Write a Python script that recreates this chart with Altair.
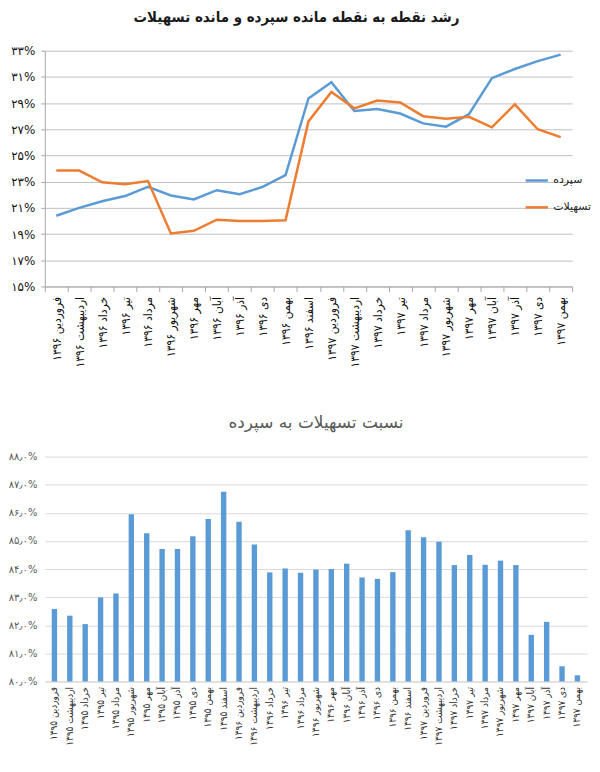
import json

import altair as alt
import pandas as pd

FONT = "DejaVu Sans"
NARROW = "DejaVu Sans Condensed"
BLUE = "#5B9BD5"
ORANGE = "#ED7D31"

months = ["فروردین", "اردیبهشت", "خرداد", "تیر", "مرداد", "شهریور",
          "مهر", "آبان", "آذر", "دی", "بهمن", "اسفند"]

# نمودار بالا: رشد نقطه به نقطه (درصد)
growth_periods = [f"{m} ۱۳۹۶" for m in months] + [f"{m} ۱۳۹۷" for m in months[:11]]
deposits = [20.4, 21.0, 21.5, 21.9, 22.6, 21.95, 21.65, 22.35, 22.05, 22.6, 23.5, 29.35,
            30.6, 28.4, 28.55, 28.2, 27.45, 27.2, 28.15, 30.9, 31.6, 32.2, 32.7]
loans = [23.85, 23.85, 22.95, 22.8, 23.05, 19.05, 19.25, 20.1, 20.0, 20.0, 20.05, 27.6,
         29.85, 28.6, 29.2, 29.05, 28.0, 27.8, 27.95, 27.15, 28.9, 27.0, 26.4]
series_names = ["سپرده", "تسهیلات"]
growth_ticks = [15, 17, 19, 21, 23, 25, 27, 29, 31, 33]
growth_tick_labels = ["۱۵%", "۱۷%", "۱۹%", "۲۱%", "۲۳%", "۲۵%", "۲۷%", "۲۹%", "۳۱%", "۳۳%"]

# نمودار پایین: نسبت تسهیلات به سپرده (درصد)
ratio_periods = ([f"{m} ۱۳۹۵" for m in months] + [f"{m} ۱۳۹۶" for m in months]
                 + [f"{m} ۱۳۹۷" for m in months[:11]])
ratio = [82.58, 82.34, 82.04, 82.99, 83.13, 85.95, 85.27, 84.71, 84.71, 85.17, 85.78, 86.75,
         85.68, 84.87, 83.88, 84.02, 83.87, 83.98, 84.0, 84.19, 83.7, 83.65, 83.89, 85.38,
         85.13, 84.97, 84.14, 84.5, 84.15, 84.3, 84.14, 81.66, 82.12, 80.54, 80.22]
ratio_ticks = [80, 81, 82, 83, 84, 85, 86, 87, 88]
ratio_tick_labels = ["۸۰٫۰%", "۸۱٫۰%", "۸۲٫۰%", "۸۳٫۰%", "۸۴٫۰%",
                     "۸۵٫۰%", "۸۶٫۰%", "۸۷٫۰%", "۸۸٫۰%"]


def label_expr(labels, start, step):
    return f"{json.dumps(labels, ensure_ascii=False)}[round((datum.value - {start}) / {step})]"


growth_df = pd.DataFrame({
    "period": growth_periods * 2,
    "series": [series_names[0]] * len(deposits) + [series_names[1]] * len(loans),
    "value": deposits + loans,
})

top = alt.Chart(growth_df).mark_line(strokeWidth=2.5).encode(
    x=alt.X("period:N", sort=growth_periods, bandPosition=0.5,
            scale=alt.Scale(type="band", paddingInner=0, paddingOuter=0),
            axis=alt.Axis(title=None, labelAngle=-90, tickBand="extent", ticks=True,
                          tickSize=5, tickColor="#A6A6A6", domainColor="#A6A6A6",
                          labelFont=NARROW, labelFontSize=12, labelColor="#111",
                          labelPadding=5)),
    y=alt.Y("value:Q", scale=alt.Scale(domain=[15, 33], zero=False),
            axis=alt.Axis(title=None, values=growth_ticks,
                          labelExpr=label_expr(growth_tick_labels, 15, 2),
                          gridColor="#BFBFBF", domainColor="#A6A6A6", tickColor="#A6A6A6",
                          tickSize=4, labelFontSize=12, labelColor="#111", labelPadding=6)),
    color=alt.Color("series:N", sort=series_names,
                    scale=alt.Scale(domain=series_names, range=[BLUE, ORANGE]),
                    legend=alt.Legend(title=None, orient="none", legendX=482, legendY=118,
                                      symbolType="stroke", symbolStrokeWidth=2.5,
                                      symbolSize=500, labelFontSize=11, labelColor="#222",
                                      rowPadding=9)),
).properties(
    width=530, height=237,
    title=alt.Title("رشد نقطه به نقطه مانده سپرده و مانده تسهیلات", font=NARROW,
                    fontSize=15, fontWeight="bold", color="#1a1a1a", offset=20, dx=-12),
)

ratio_df = pd.DataFrame({"period": ratio_periods, "ratio": ratio})

bottom = alt.Chart(ratio_df).mark_bar(color=BLUE).encode(
    x=alt.X("period:N", sort=ratio_periods,
            scale=alt.Scale(paddingInner=0.65, paddingOuter=0.45),
            axis=alt.Axis(title=None, labelAngle=-90, ticks=False, domainColor="#D9D9D9",
                          labelFont=NARROW, labelFontSize=10, labelColor="#333",
                          labelPadding=5)),
    y=alt.Y("ratio:Q", scale=alt.Scale(domain=[80, 88], zero=False),
            axis=alt.Axis(title=None, values=ratio_ticks,
                          labelExpr=label_expr(ratio_tick_labels, 80, 1),
                          gridColor="#D9D9D9", domain=False, ticks=False,
                          labelFontSize=10, labelColor="#595959", labelPadding=8)),
    y2=alt.datum(80),
).properties(
    width=545, height=226,
    title=alt.Title("نسبت تسهیلات به سپرده", fontSize=17, fontWeight="normal",
                    color="#595959", offset=20),
)

chart = alt.vconcat(top, bottom, spacing=46).properties(
    padding=0, background="white"
).configure(font=FONT).configure_view(stroke=None)

chart.save("out.html", embed_options={"renderer": "svg", "actions": False})
